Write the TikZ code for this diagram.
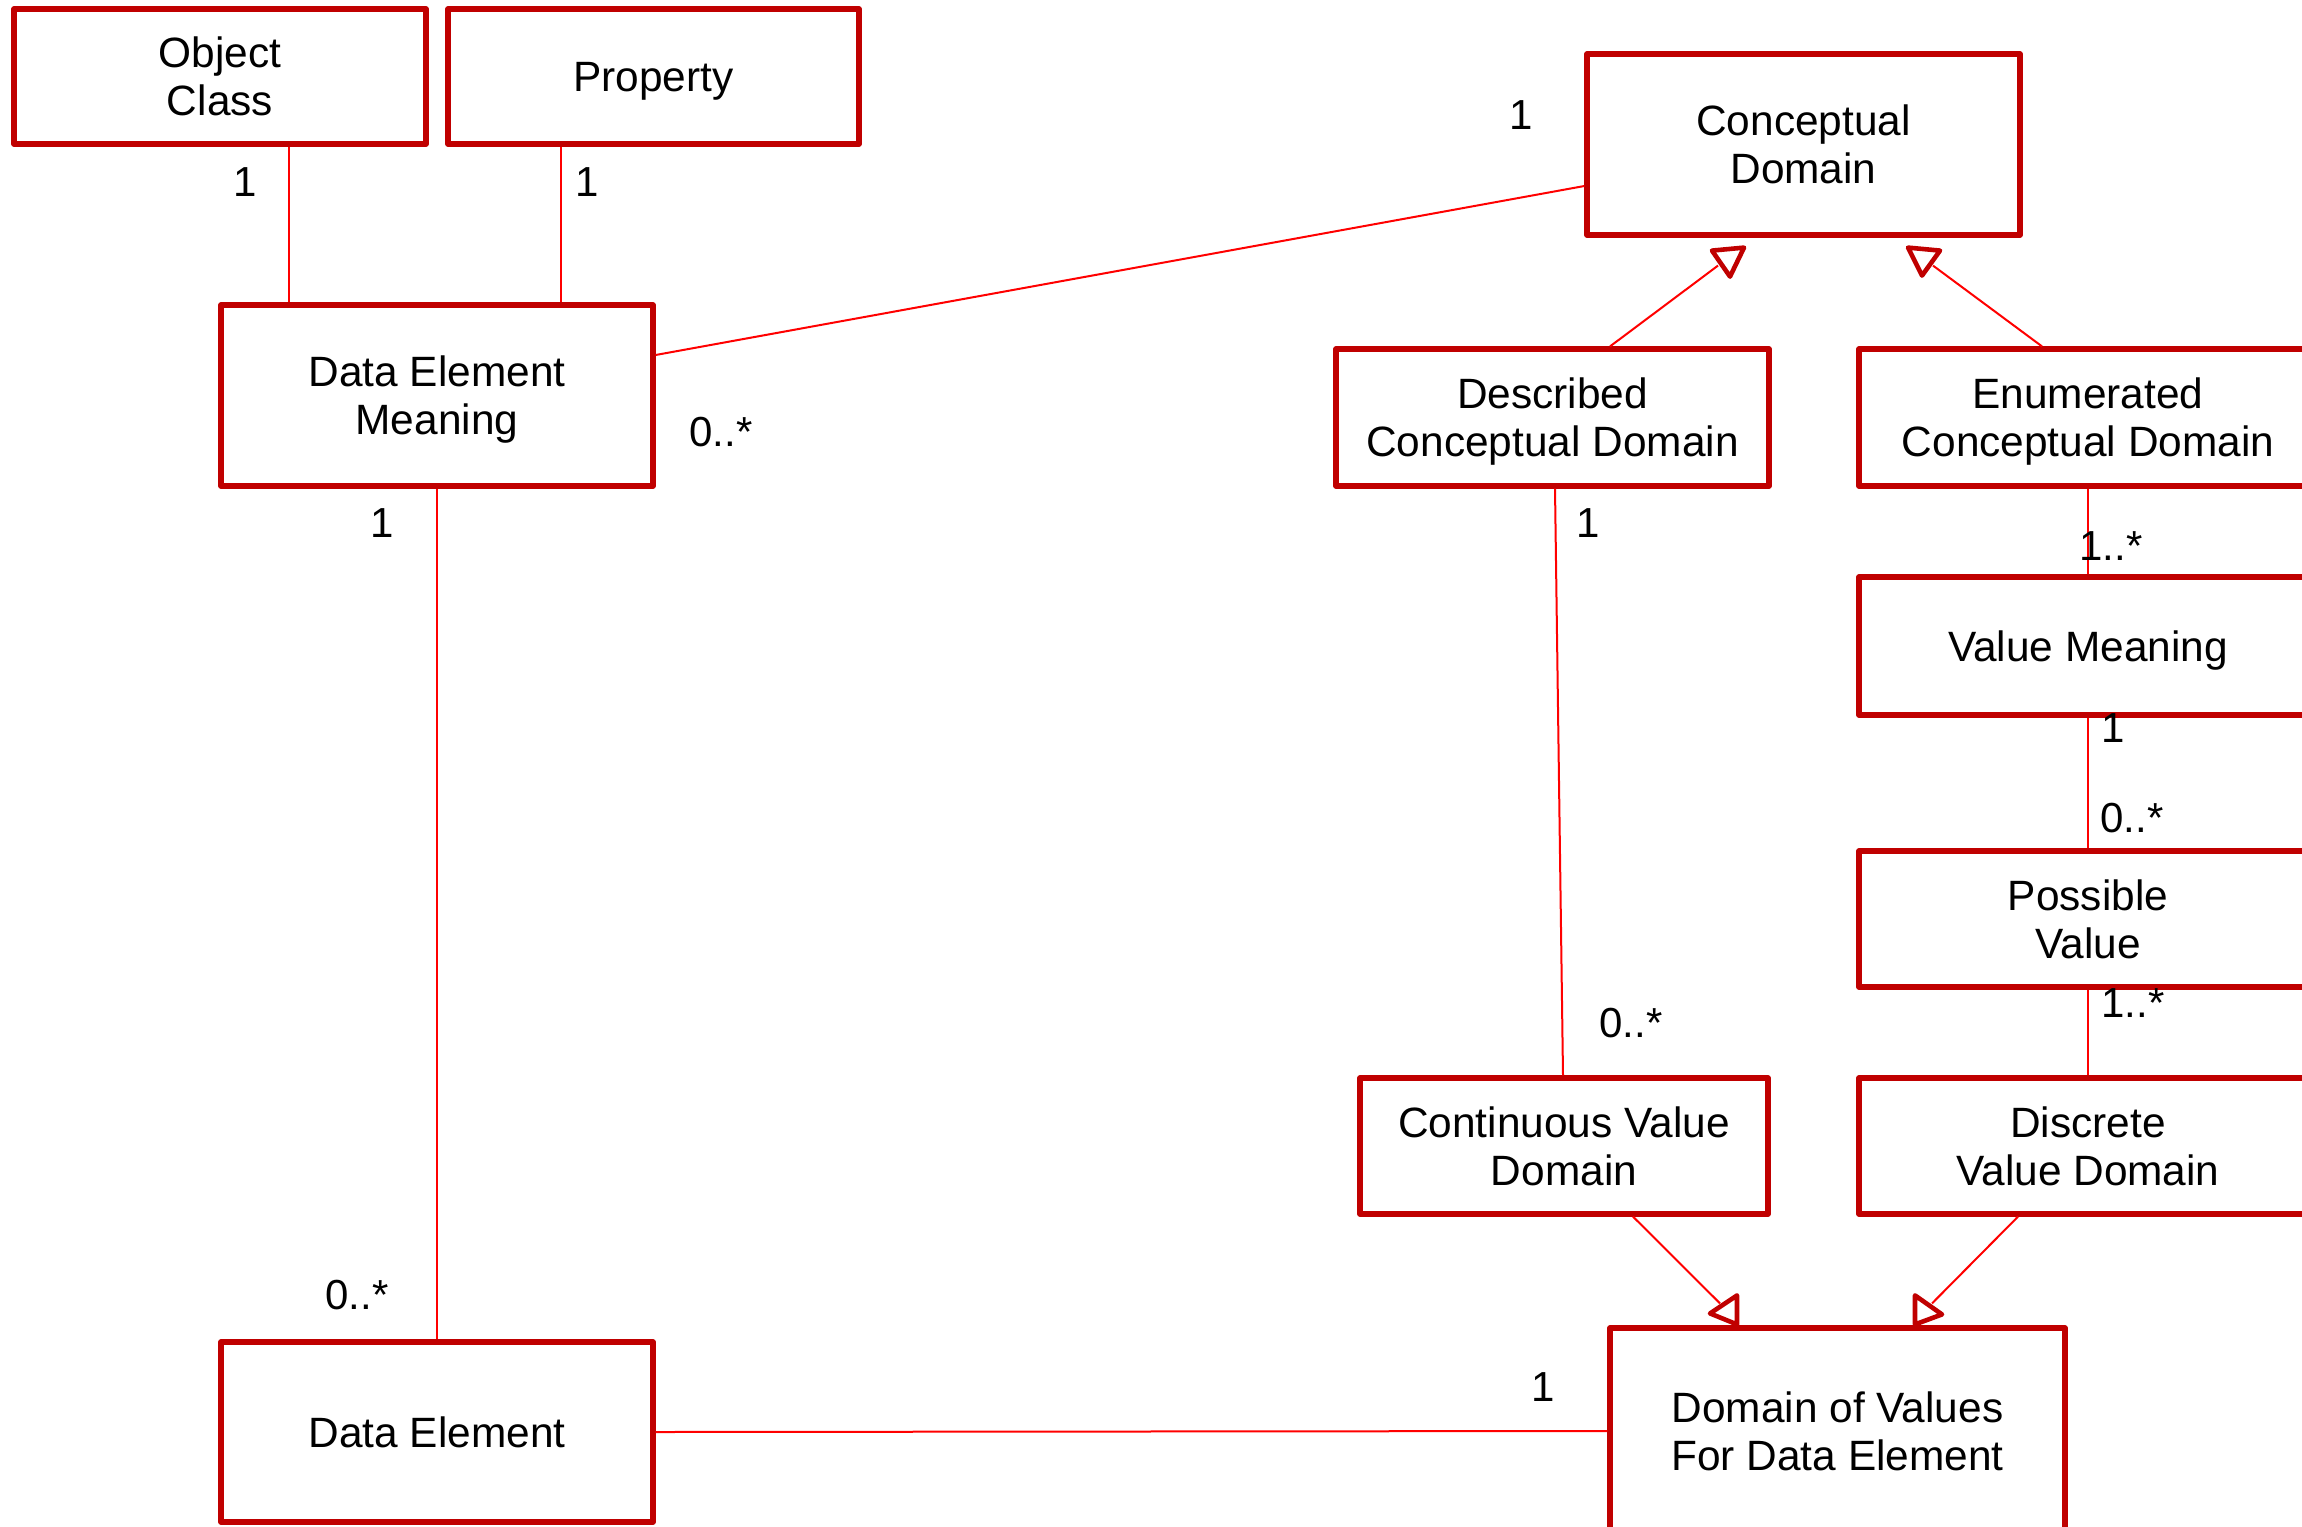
\documentclass[tikz,border=0pt]{standalone}
\usepackage{fontspec}
\setmainfont{Liberation Sans}
\usetikzlibrary{calc}
\definecolor{boxred}{RGB}{192,0,0}
\definecolor{linered}{RGB}{255,0,0}
\begin{document}
\begin{tikzpicture}[x=0.5pt,y=-0.5pt,
  cls/.style={draw=boxred, line width=2.6pt, line join=round, rectangle, inner sep=0pt, text depth=0pt, align=center, font=\fontsize{21.2}{24}\selectfont, text=black},
  assoc/.style={draw=linered, line width=1pt},
  gen/.style={draw=boxred, line width=2.3pt, line join=round, fill=white},
  mult/.style={inner sep=0pt, font=\fontsize{21}{24}\selectfont}]
\useasboundingbox (0,0) rectangle (2302,1526);
\clip (0,0) rectangle (2302,1526);

% classes
\node[cls, minimum width=206pt, minimum height=67.5pt] (oc) at (220,76.5) {Object\\Class};
\node[cls, minimum width=205.5pt, minimum height=67.5pt] (prop) at (653.5,76.5) {Property};
\node[cls, minimum width=216.5pt, minimum height=90.5pt] (cd) at (1803.5,144.5) {Conceptual\\Domain};
\node[cls, minimum width=216pt, minimum height=90.5pt] (dem) at (437,395.5) {Data Element\\Meaning};
\node[cls, minimum width=216.5pt, minimum height=68.5pt] (dcd) at (1552.5,417.5) {Described\\Conceptual Domain};
\node[cls, minimum width=229pt, minimum height=68.5pt] (ecd) at (2088,417.5) {Enumerated\\Conceptual Domain};
\node[cls, minimum width=229pt, minimum height=69pt] (vm) at (2088,646) {Value Meaning};
\node[cls, minimum width=229pt, minimum height=68pt] (pv) at (2088,919) {Possible\\Value};
\node[cls, minimum width=204pt, minimum height=68pt] (cvd) at (1564,1146) {Continuous Value\\Domain};
\node[cls, minimum width=229pt, minimum height=68pt] (dvd) at (2088,1146) {Discrete\\Value Domain};
\node[cls, minimum width=216pt, minimum height=90pt] (de) at (437,1432) {Data Element};
\node[cls, minimum width=227.5pt, minimum height=103pt] (dov) at (1837.5,1431) {Domain of Values\\For Data Element};

% associations
\draw[assoc] ($(oc.south)+(69,0)$) -- ($(dem.north)+(-148,0)$);
\draw[assoc] ($(prop.south)+(-92.5,0)$) -- ($(dem.north)+(124,0)$);
\draw[assoc] ($(cd.west)+(0,41.5)$) -- ($(dem.east)+(0,-40.5)$);
\draw[assoc] (dem.south) -- (de.north);
\draw[assoc] ($(dcd.south)+(2.5,0)$) -- ($(cvd.north)+(-1,0)$);
\draw[assoc] (ecd.south) -- (vm.north);
\draw[assoc] (vm.south) -- (pv.north);
\draw[assoc] (pv.south) -- (dvd.north);
\draw[assoc] (de.east) -- ($(dov.west)+(0,0)$);

% generalizations
\draw[assoc] ($(dcd.north)+(57.5,0)$) -- ($(cd.south)+(-85.5,28)$);
\draw[gen] ($(cd.south)+(-91.5,13)$) -- ($(cd.south)+(-59.5,10)$) -- ($(cd.south)+(-73.5,39)$) -- cycle;
\draw[assoc] ($(ecd.north)+(-46,0)$) -- ($(cd.south)+(129.5,28)$);
\draw[gen] ($(cd.south)+(104.5,10)$) -- ($(cd.south)+(136.5,13)$) -- ($(cd.south)+(118.5,38)$) -- cycle;
\draw[assoc] ($(cvd.south)+(69,0)$) -- ($(dov.north)+(-117.5,-22)$);
\draw[gen] ($(dov.north)+(-127.5,-12)$) -- ($(dov.north)+(-100.5,-30)$) -- ($(dov.north)+(-100.5,-1)$) -- cycle;
\draw[assoc] ($(dvd.south)+(-70,0)$) -- ($(dov.north)+(94.5,-22)$);
\draw[gen] ($(dov.north)+(77.5,-30)$) -- ($(dov.north)+(104.5,-11)$) -- ($(dov.north)+(77.5,-1)$) -- cycle;

% multiplicities
\node[mult] (m1) at (245,182) {1};
\node[mult] (m2) at (587,182) {1};
\node[mult] (m3) at (1521,115) {1};
\node[mult] (m4) at (721,432) {0..*};
\node[mult] (m5) at (382,523) {1};
\node[mult] (m6) at (357,1295) {0..*};
\node[mult] (m7) at (1588,523) {1};
\node[mult] (m8) at (1631,1023) {0..*};
\node[mult] (m9) at (2111,546) {1..*};
\node[mult] (m10) at (2113,728) {1};
\node[mult] (m11) at (2132,818) {0..*};
\node[mult] (m12) at (2133,1003) {1..*};
\node[mult] (m13) at (1543,1387) {1};
\end{tikzpicture}
\end{document}
